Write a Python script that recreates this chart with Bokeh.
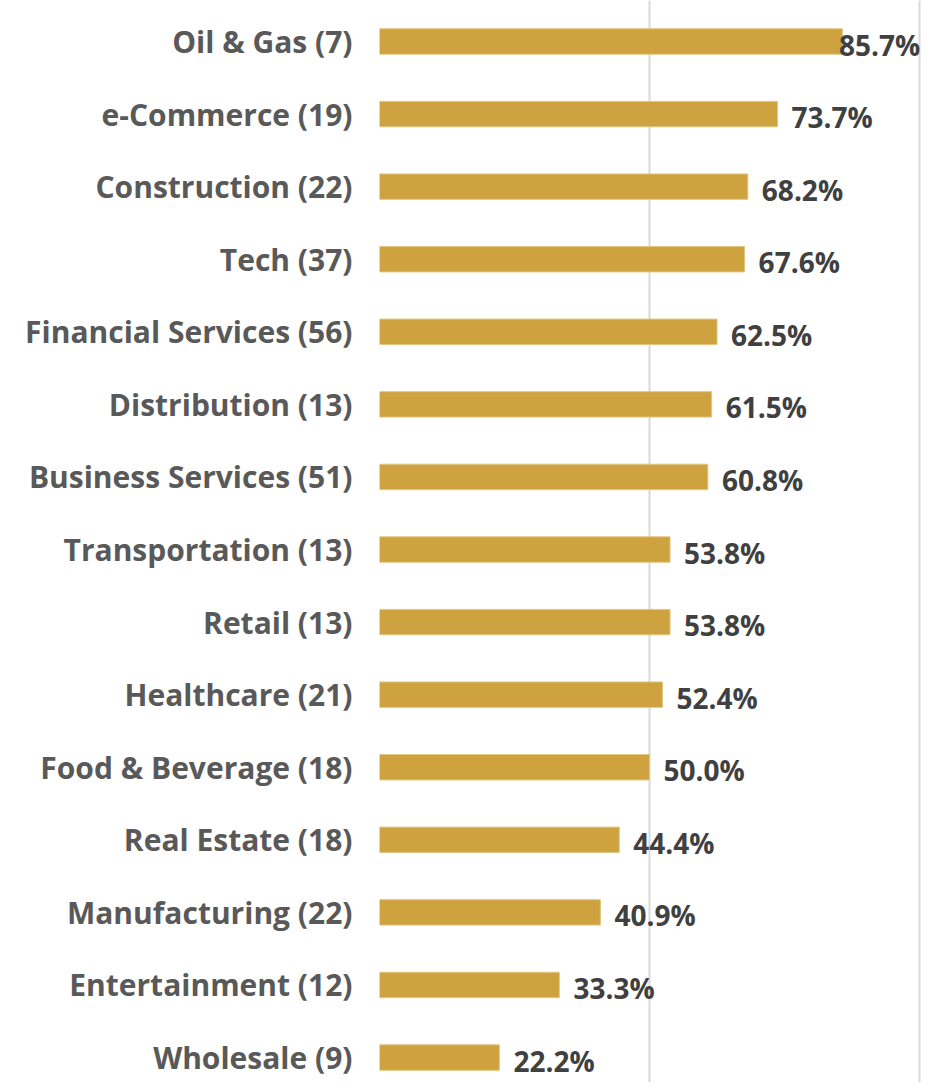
import numpy as np
from bokeh.plotting import figure
from bokeh.models import ColumnDataSource, Range1d, FixedTicker
from bokeh.core.properties import value
from bokeh.embed import file_html
from bokeh.resources import INLINE

categories = ["Oil & Gas (7)", "e-Commerce (19)", "Construction (22)", "Tech (37)",
              "Financial Services (56)", "Distribution (13)", "Business Services (51)",
              "Transportation (13)", "Retail (13)", "Healthcare (21)", "Food & Beverage (18)",
              "Real Estate (18)", "Manufacturing (22)", "Entertainment (12)", "Wholesale (9)"]
shares = [0.857, 0.737, 0.682, 0.676, 0.625, 0.615, 0.608, 0.538, 0.538, 0.524,
          0.500, 0.444, 0.409, 0.333, 0.222]
labels = ["85.7%", "73.7%", "68.2%", "67.6%", "62.5%", "61.5%", "60.8%", "53.8%",
          "53.8%", "52.4%", "50.0%", "44.4%", "40.9%", "33.3%", "22.2%"]

FONT = "Open Sans"
n = len(categories)
ypos = [n - 1 - i for i in range(n)]
label_pad = 0.026
label_x = [min(v + label_pad, 0.851) for v in shares]

src = ColumnDataSource(dict(y=ypos, v=shares, lab=labels, lx=label_x))

p = figure(width=925, height=1082, output_backend="svg", toolbar_location=None,
           x_range=Range1d(0, 1.011),
           y_range=Range1d(-0.344, n - 1 + 0.565),
           min_border_left=379, min_border_right=0, min_border_top=0, min_border_bottom=0)
p.outline_line_color = None
p.background_fill_color = "white"
p.border_fill_color = "white"

p.hbar(y="y", right="v", left=0, height=0.35, source=src,
       fill_color="#CDA23F", line_color="#E3C77F", line_width=1)

p.text(x="lx", y="y", text="lab", source=src, text_align="left",
       text_baseline="middle", text_font=value(FONT), text_font_style="bold",
       text_font_size="28px", text_color="#404040", y_offset=3)

p.xaxis.visible = False
p.xgrid.ticker = FixedTicker(ticks=[0, 0.5, 1.0])
p.xgrid.grid_line_color = "#D9D9D9"
p.xgrid.grid_line_width = 2
p.ygrid.grid_line_color = None

ax = p.yaxis[0]
ax.ticker = FixedTicker(ticks=ypos)
ax.major_label_overrides = {y: c for y, c in zip(ypos, categories)}
ax.axis_line_color = None
ax.major_tick_line_color = None
ax.minor_tick_line_color = None
ax.major_tick_out = 0
ax.major_tick_in = 0
ax.major_label_standoff = 27
ax.major_label_text_font = FONT
ax.major_label_text_font_style = "bold"
ax.major_label_text_font_size = "30px"
ax.major_label_text_color = "#595959"

open("out.html", "w").write(file_html(p, INLINE))
